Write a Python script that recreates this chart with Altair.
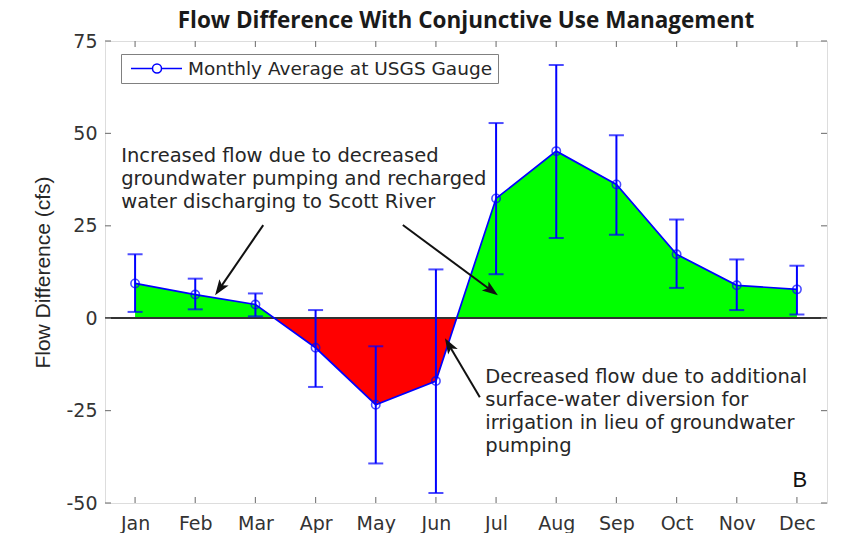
import json
import math
import altair as alt
import pandas as pd

# ---------------- data ----------------
months = ["Jan", "Feb", "Mar", "Apr", "May", "Jun", "Jul", "Aug", "Sep", "Oct", "Nov", "Dec"]
flow_avg = [9.4, 6.4, 3.7, -8.0, -23.4, -17.0, 32.4, 45.2, 36.2, 17.3, 8.9, 7.8]
err_high = [17.3, 10.7, 6.7, 2.2, -7.6, 13.2, 52.8, 68.5, 49.5, 26.7, 15.9, 14.2]
err_low = [1.7, 2.4, 0.5, -18.6, -39.3, -47.3, 11.9, 21.7, 22.6, 8.2, 2.2, 1.0]
y_ticks = [-50, -25, 0, 25, 50, 75]
series_label = "Monthly Average at USGS Gauge"
chart_title = ["Flow Difference With Conjunctive Use Management"]
y_title = "Flow Difference (cfs)"

note_texts = [
    "Increased flow due to decreased\ngroundwater pumping and recharged\nwater discharging to Scott River",
    "Decreased flow due to additional\nsurface-water diversion for\nirrigation in lieu of groundwater\npumping",
]
note_x = [0.77, 6.82]
note_y = [42.2, -17.6]
panel_label = ["B"]
panel_x = [12.05]
panel_y = [-45.7]

arrow_tail_x = [3.13, 5.45, 6.73]
arrow_tail_y = [25.2, 25.2, -21.4]
arrow_tip_x = [2.33, 7.03, 6.15]
arrow_tip_y = [6.2, 6.2, -5.4]

# ---------------- layout ----------------
W, H = 722, 462
X_DOM = [0.5, 12.5]
Y_DOM = [-50, 75]
BLUE = "#0000ff"
FONT = "DejaVu Sans"

idx = list(range(1, 13))
main_df = pd.DataFrame({"m": idx, "month": months, "v": flow_avg,
                        "hi": err_high, "lo": err_low, "series": series_label})

# area polygon, split at zero crossings
pts = []
for i in range(12):
    pts.append((idx[i], flow_avg[i]))
    if i < 11:
        a, b = flow_avg[i], flow_avg[i + 1]
        if a * b < 0:
            pts.append((idx[i] + a / (a - b), 0.0))
area_df = pd.DataFrame({"m": [p[0] for p in pts],
                        "pos": [max(p[1], 0.0) for p in pts],
                        "neg": [min(p[1], 0.0) for p in pts],
                        "zero": 0.0})

# arrows
pxm = W / (X_DOM[1] - X_DOM[0])
pxv = H / (Y_DOM[1] - Y_DOM[0])
HEAD = 18.0
rows = []
for tx, ty, hx, hy in zip(arrow_tail_x, arrow_tail_y, arrow_tip_x, arrow_tip_y):
    dx = (hx - tx) * pxm
    dy = -(hy - ty) * pxv
    L = math.hypot(dx, dy)
    ang = math.degrees(math.atan2(dx, -dy)) % 360
    back = HEAD / 2
    cx = hx - dx / L * back / pxm
    cy = hy + dy / L * back / pxv
    rows.append({"tx": tx, "ty": ty, "cx": cx, "cy": cy, "ang": ang})
arrow_df = pd.DataFrame(rows)
head_path = "M0,-1L0.62,0.75L0,0.35L-0.62,0.75Z"

notes_df = pd.DataFrame({"x": note_x, "y": note_y, "t": note_texts})
panel_df = pd.DataFrame({"x": panel_x, "y": panel_y, "t": panel_label})
title_df = pd.DataFrame({"t": chart_title})
mon_df = pd.DataFrame({"m": idx})
yt_df = pd.DataFrame({"y": y_ticks})

xs = alt.Scale(domain=X_DOM, nice=False, zero=False)
ys = alt.Scale(domain=Y_DOM, nice=False, zero=False)
label_expr = "%s[datum.value - 1]" % json.dumps(months)

x_axis = alt.Axis(values=idx, labelExpr=label_expr, title=None, grid=False,
                  domain=False, ticks=False, labelFont=FONT, labelFontSize=19,
                  labelColor="#333333", labelPadding=11)
y_axis = alt.Axis(values=y_ticks, labelExpr="'' + datum.value", title=y_title,
                  grid=False, domain=False,
                  ticks=False, labelFont=FONT, labelFontSize=19,
                  labelColor="#333333", labelPadding=8,
                  titleFont="Liberation Sans", titleFontSize=21,
                  titleFontWeight="normal", titleColor="#262626", titlePadding=12)

X = alt.X("m:Q", scale=xs, axis=x_axis)
Y = alt.Y("pos:Q", scale=ys, axis=y_axis)

base_area = alt.Chart(area_df)
green = base_area.mark_area(color="#00ff00", opacity=1).encode(
    x=X, y=Y, y2="zero:Q")
red = base_area.mark_area(color="#ff0000", opacity=1).encode(
    x=alt.X("m:Q", scale=xs), y=alt.Y("neg:Q", scale=ys), y2="zero:Q")

zero = alt.Chart(mon_df).mark_rule(color="#333333", strokeWidth=1.2).encode(
    y=alt.datum(0), x=alt.value(0), x2=alt.value(W))

base = alt.Chart(main_df)
err = base.mark_rule(color=BLUE, strokeWidth=2).encode(
    x=alt.X("m:Q", scale=xs), y=alt.Y("lo:Q", scale=ys), y2="hi:Q")
cap_lo = base.mark_tick(color=BLUE, orient="horizontal", size=15, thickness=2).encode(
    x=alt.X("m:Q", scale=xs), y=alt.Y("lo:Q", scale=ys))
cap_hi = base.mark_tick(color=BLUE, orient="horizontal", size=15, thickness=2).encode(
    x=alt.X("m:Q", scale=xs), y=alt.Y("hi:Q", scale=ys))

# legend symbol: line with an open circle, drawn to the right of the symbol slot
legend_sym = ("M-0.53,0L2.0,0M3.06,0L5.47,0"
              "M2.0,0A0.53,0.53,0,1,1,3.06,0A0.53,0.53,0,1,1,2.0,0")
line = base.mark_line(strokeWidth=1.7).encode(
    x=alt.X("m:Q", scale=xs), y=alt.Y("v:Q", scale=ys),
    color=alt.Color("series:N", scale=alt.Scale(range=[BLUE]),
                    legend=alt.Legend(title=None, orient="none", legendX=16, legendY=13,
                                      symbolType=legend_sym, symbolSize=289,
                                      symbolStrokeWidth=1.5, symbolFillColor="white",
                                      symbolStrokeColor=BLUE,
                                      labelFont=FONT, labelFontSize=18.5, labelLimit=0,
                                      labelColor="#262626", labelOffset=43,
                                      strokeColor="#808080", fillColor="white",
                                      padding=5)))
points = base.mark_point(shape="circle", filled=False, size=70, color=BLUE,
                         strokeWidth=1.6).encode(
    x=alt.X("m:Q", scale=xs), y=alt.Y("v:Q", scale=ys))

notes = alt.Chart(notes_df).mark_text(align="left", baseline="alphabetic",
                                      lineBreak="\n", lineHeight=23, font=FONT,
                                      fontSize=19.5, color="#262626").encode(
    x=alt.X("x:Q", scale=xs), y=alt.Y("y:Q", scale=ys), text="t:N")
panel = alt.Chart(panel_df).mark_text(align="center", baseline="alphabetic",
                                      font="Liberation Sans", fontSize=22,
                                      color="#111111").encode(
    x=alt.X("x:Q", scale=xs), y=alt.Y("y:Q", scale=ys), text="t:N")
title = alt.Chart(title_df).mark_text(align="center", baseline="alphabetic",
                                      font="Open Sans", fontSize=22.5, fontWeight="bold",
                                      color="#1a1a1a").encode(
    x=alt.value(W / 2), y=alt.value(-13), text="t:N")

arr_base = alt.Chart(arrow_df)
arrows = arr_base.mark_rule(color="#111111", strokeWidth=2).encode(
    x=alt.X("tx:Q", scale=xs), y=alt.Y("ty:Q", scale=ys), x2="cx:Q", y2="cy:Q")
heads = arr_base.mark_point(shape=head_path, filled=True, size=HEAD * HEAD,
                            color="#111111", opacity=1).encode(
    x=alt.X("cx:Q", scale=xs), y=alt.Y("cy:Q", scale=ys), angle=alt.Angle("ang:Q", scale=None))

TICK = 6
tcol = "#808080"
t_bot = alt.Chart(mon_df).mark_rule(color=tcol, strokeWidth=1.2).encode(
    x=alt.X("m:Q", scale=xs), y=alt.value(H), y2=alt.value(H - TICK))
t_top = alt.Chart(mon_df).mark_rule(color=tcol, strokeWidth=1.2).encode(
    x=alt.X("m:Q", scale=xs), y=alt.value(0), y2=alt.value(TICK))
t_left = alt.Chart(yt_df).mark_rule(color=tcol, strokeWidth=1.2).encode(
    y=alt.Y("y:Q", scale=ys), x=alt.value(0), x2=alt.value(TICK))
t_right = alt.Chart(yt_df).mark_rule(color=tcol, strokeWidth=1.2).encode(
    y=alt.Y("y:Q", scale=ys), x=alt.value(W), x2=alt.value(W - TICK))

chart = alt.layer(
    green, red, zero, t_bot, t_top, t_left, t_right,
    err, cap_lo, cap_hi, line, points, arrows, heads, notes, panel, title
).properties(
    width=W, height=H,
    autosize=alt.AutoSizeParams(type="none"),
    padding={"left": 97, "top": 33, "right": 6, "bottom": 30},
).configure_view(
    stroke="#808080", strokeWidth=1.3
).configure(background="white")

chart.save("out.html", embed_options={"renderer": "svg", "actions": False})
